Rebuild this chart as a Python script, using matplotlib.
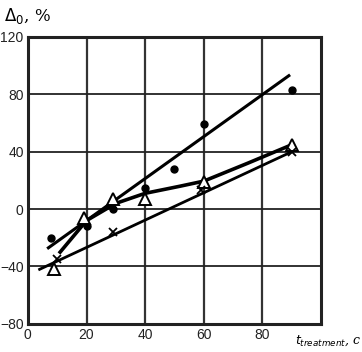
import matplotlib
matplotlib.use('Agg')
import matplotlib.pyplot as plt
import numpy as np

# filled circles and their fitted straight line
dot_x = [8, 20, 29, 40, 50, 60, 90]
dot_y = [-20, -12, 0, 15, 28, 59, 83]
dot_fit_x = [7, 89]
dot_fit_y = [-27, 93]

# open triangles and the curve through them
tri_x = [9, 19, 29, 40, 60, 90]
tri_y = [-42, -6, 7, 7, 19, 45]
tri_curve_x = [11, 20, 30, 40, 52, 60, 75, 89]
tri_curve_y = [-30, -8, 4, 11, 16, 19.5, 32, 44]

# crosses and their line
crs_x = [10, 29, 59, 90]
crs_y = [-35, -16, 13, 40]
crs_fit_x = [4, 90]
crs_fit_y = [-42, 40]

xticks = [0, 20, 40, 60, 80]
yticks = [-80, -40, 0, 40, 80, 120]

plt.rcParams['font.family'] = ['Liberation Sans', 'DejaVu Sans']

fig = plt.figure(figsize=(3.62, 3.52), dpi=100)
ax = fig.add_axes([0.077, 0.08, 0.81, 0.815])

ax.set_xlim(0, 100)
ax.set_ylim(-80, 120)
ax.set_xticks(xticks)
ax.set_yticks(yticks)
ax.tick_params(length=0, labelsize=10, pad=3, colors='#222222')

# grid
for gx in [20, 40, 60, 80]:
    ax.axvline(gx, color='#333333', lw=1.6, zorder=1)
for gy in [-40, 0, 40, 80]:
    ax.axhline(gy, color='#222222', lw=1.3, zorder=1)
for sp in ax.spines.values():
    sp.set_linewidth(2.2)
    sp.set_color('#222222')

ax.plot(dot_fit_x, dot_fit_y, color='black', lw=2.2, zorder=3)
ax.plot(tri_curve_x, tri_curve_y, color='black', lw=2.6, zorder=3)
ax.plot(crs_fit_x, crs_fit_y, color='black', lw=2.0, zorder=3)

ax.plot(dot_x, dot_y, 'o', color='black', ms=5, zorder=4)
ax.plot(tri_x, tri_y, '^', mfc='white', mec='black', mew=1.4, ms=9, zorder=4)
ax.plot(crs_x, crs_y, 'x', color='black', mew=1.3, ms=6, zorder=5)

fig.text(0.01, 0.955, r'$\Delta_0$, %', fontsize=12, family='DejaVu Serif',
         va='center', ha='left')
fig.text(0.997, 0.012, r'$t_{treatment}$, c', fontsize=9, family='DejaVu Serif',
         style='italic', va='bottom', ha='right')

fig.savefig('out.png', dpi=100)
